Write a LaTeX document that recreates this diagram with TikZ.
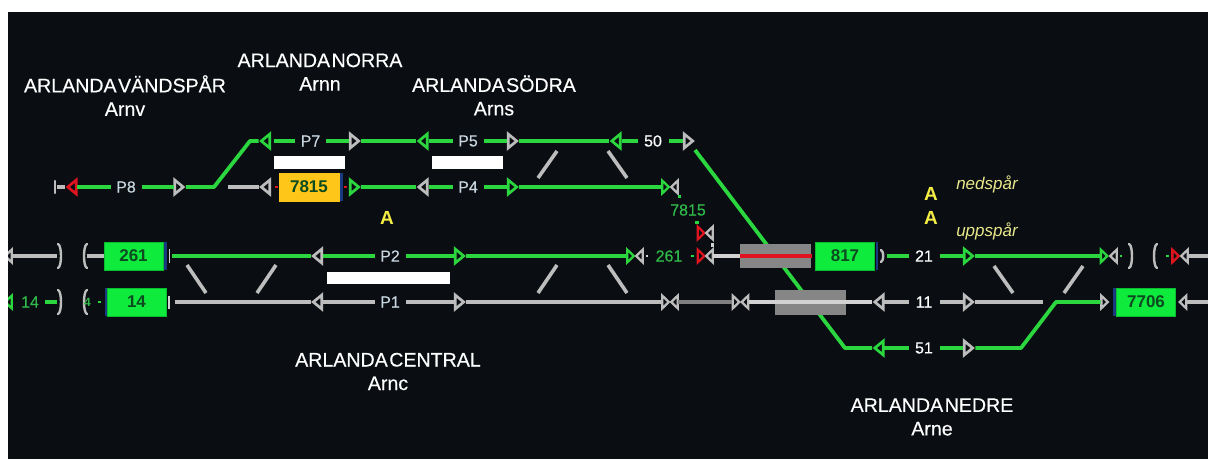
\documentclass[tikz,border=0pt]{standalone}
\usepackage{fontspec}
\setmainfont{Liberation Sans}
\usetikzlibrary{shapes.geometric}
\definecolor{bg}{HTML}{0A0D12}
\definecolor{grn}{HTML}{2BD63F}
\definecolor{gry}{HTML}{BDBDBD}
\definecolor{lgt}{HTML}{D2D2D2}
\definecolor{rd}{HTML}{E0141E}
\definecolor{boxg}{HTML}{0FEB3C}
\definecolor{boxy}{HTML}{FFC61A}
\definecolor{nav}{HTML}{1A3A80}
\definecolor{lab}{HTML}{C8D6E0}
\definecolor{ylw}{HTML}{F5EE45}
\definecolor{ity}{HTML}{E8E88A}
\definecolor{txg}{HTML}{30B84A}
\definecolor{boxt}{HTML}{0C4A20}
\newfontfamily\heavy[FakeBold=0.35]{Liberation Sans}
\tikzset{
 sl/.style={draw,fill=bg,isosceles triangle,isosceles triangle stretches,shape border rotate=180,minimum width=14pt,minimum height=8.5pt,inner sep=0pt,line width=2.7pt,outer sep=1pt,line join=miter},
 sr/.style={sl,shape border rotate=0},
 ssl/.style={sl,minimum width=12.5pt,minimum height=6.5pt,line width=2.3pt,outer sep=.8pt},
 ssr/.style={ssl,shape border rotate=0},
 G/.style={draw=grn},
 Y/.style={draw=gry},
 R/.style={draw=rd},
 gt/.style={draw=grn,line width=3.8pt,line join=round},
 yt/.style={draw=gry,line width=3.6pt,line join=round},
 lt/.style={draw=lgt,line width=3.6pt},
 cross/.style={draw=gry,line width=3.6pt},
 lbl/.style={minimum width=31pt,minimum height=10pt,inner sep=0pt,outer sep=0pt,text=lab,font=\fontsize{16}{16}\heavy},
 num/.style={lbl,text=white,font=\fontsize{16}{16}\heavy},
 gnum/.style={inner sep=0pt,text=txg,font=\fontsize{16}{16}\heavy},
 tbox/.style={fill=boxg,draw=boxg!80!black,line width=.5pt,minimum width=59pt,minimum height=28pt,inner sep=0pt,text=boxt,font=\fontsize{17}{17}\bfseries\selectfont},
 gbox/.style={fill=gray!95!white,minimum width=71pt,minimum height=24pt,inner sep=0pt},
 wbar/.style={fill=white,inner sep=0pt},
 st/.style={text=white,inner sep=0pt,align=center,font=\fontsize{19.6}{23.5}\heavy},
 ya/.style={text=ylw,inner sep=0pt,font=\fontsize{19}{19}\bfseries\selectfont},
 it/.style={text=ity,inner sep=0pt,font=\fontsize{17}{17}\itshape\selectfont},
 brk/.style={draw=gry,line width=2.4pt,line cap=round},
}
\newcommand{\tsp}{\hspace{1.5pt}}
\begin{document}
\begin{tikzpicture}[x=1pt,y=-1pt]
\useasboundingbox (0,0) rectangle (1208,459);
\fill[bg] (0,0) rectangle (1208,459);

% ---- titles
\node[st] (t1) at (125,95.5) {ARLANDA\tsp VÄNDSPÅR\\Arnv};
\node[st] (t2) at (320,72) {ARLANDA\tsp NORRA\\Arnn};
\node[st] (t3) at (494,95.5) {ARLANDA\tsp SÖDRA\\Arns};
\node[st] (t4) at (388,371.5) {ARLANDA\tsp CENTRAL\\Arnc};
\node[st] (t5) at (932,417) {ARLANDA\tsp NEDRE\\Arne};
\node[ya] (a1) at (387,218) {A};
\node[ya] (a2) at (931,194) {A};
\node[ya] (a3) at (931,218) {A};
\node[it] (n1) at (987,184) {nedspår};
\node[it] (n2) at (987,231) {uppspår};

% ---- white bars
\node[wbar,minimum width=71pt,minimum height=13pt] (w1) at (309.5,162.5) {};
\node[wbar,minimum width=71pt,minimum height=13pt] (w2) at (467.5,162.5) {};
\node[wbar,minimum width=123pt,minimum height=12pt] (w3) at (388.5,278) {};

% ---- row 141
\node[sl,G] (a1s) at (266.5,141) {};
\node[lbl] (lP7) at (310.5,141) {P7};
\node[sr,Y] (a2s) at (353.5,141) {};
\node[sl,G] (a3s) at (424,141) {};
\node[lbl] (lP5) at (468,141) {P5};
\node[sr,Y] (a4s) at (511.5,141) {};
\node[sl,G] (a5s) at (617,141) {};
\node[num] (l50) at (653,141) {50};
\node[sr,Y] (a6s) at (687.5,141) {};
% ---- row 187
\coordinate (stop) at (57,187);
\node[sl,R] (b0s) at (73,187) {};
\node[lbl] (lP8) at (126,187) {P8};
\node[sr,Y] (b1s) at (178,187) {};
\coordinate (bend1) at (214,187);
\coordinate (bend2) at (250,141);
\coordinate (b2c) at (228,187);
\node[sl,Y] (b2s) at (266.5,187) {};
\node[tbox,fill=boxy,draw=boxy,minimum width=60pt] (k7815) at (309,187) {7815};
\node[sr,G] (b3s) at (353.5,187) {};
\node[sl,Y] (b4s) at (424,187) {};
\node[lbl] (lP4) at (468,187) {P4};
\node[sr,G] (b5s) at (511.5,187) {};
\node[ssr,G] (b6s) at (665,187) {};
\node[ssl,Y] (b7s) at (675,187) {};
\node[gnum] (x7815) at (688,210) {7815};
\node[ssr,R] (c0s) at (700.5,233) {};
\node[ssl,Y] (c1s) at (710,233) {};
% ---- row 256
\node[ssl,Y] (d0s) at (9,256) {};
\coordinate (d0e) at (57,256);
\coordinate (d1e) at (87,256);
\node[tbox] (k261) at (133.5,256) {261};
\node[sl,Y] (d2s) at (318.5,256) {};
\node[lbl] (lP2) at (390,256) {P2};
\node[sr,G] (d3s) at (458.5,256) {};
\node[ssr,G] (d4s) at (630,256) {};
\node[ssl,Y] (d5s) at (640,256) {};
\node[gnum] (x261) at (669,256) {261};
\node[ssr,R] (d6s) at (700.5,256) {};
\node[ssl,Y] (d7s) at (710,256) {};
\coordinate (d7e) at (740,256);
\coordinate (d7f) at (812,256);
\node[tbox] (k817) at (845,256) {817};
\node[num] (l21) at (924,256) {21};
\node[sr,G] (d8s) at (967.5,256) {};
\node[ssr,G] (d9s) at (1103.5,256) {};
\node[ssl,Y] (d10s) at (1114,256) {};
\node[ssr,R] (d11s) at (1175,256) {};
\node[ssl,Y] (d12s) at (1185,256) {};
\coordinate (d13) at (1208,256);
% ---- row 302
\node[ssl,G] (e0s) at (9,302) {};
\node[gnum] (x14) at (30,302) {14};
\coordinate (e1c) at (45,302);
\coordinate (e2c) at (57,302);
\node[tbox] (k14) at (136.5,302) {14};
\node[sl,Y] (e3s) at (318.5,302) {};
\node[lbl] (lP1) at (390,302) {P1};
\node[sr,Y] (e4s) at (458.5,302) {};
\node[ssr,Y] (e5s) at (665,302) {};
\node[ssl,Y] (e6s) at (675,302) {};
\node[ssr,Y] (e7s) at (735.5,302) {};
\node[ssl,Y] (e8s) at (745.5,302) {};
\node[sl,Y] (e9s) at (880,302) {};
\node[num] (l11) at (924,302) {11};
\node[sr,Y] (e10s) at (967.5,302) {};
\coordinate (e10e) at (1043,302);
\coordinate (bend5) at (1056,302);
\node[ssr,Y] (e11s) at (1104,302) {};
\node[tbox] (k7706) at (1146,302) {7706};
\node[ssl,Y] (e12s) at (1183.5,302) {};
\coordinate (e13) at (1208,302);
% ---- row 348
\coordinate (dstart) at (695,150);
\coordinate (bend3) at (845,348);
\node[sl,G] (f0s) at (880,348) {};
\node[num] (l51) at (924,348) {51};
\node[sr,Y] (f1s) at (967.5,348) {};
\coordinate (bend4) at (1021,348);

% ---- long diagonal, under the grey boxes
\draw[gt] (dstart) -- (bend3) -- (f0s);
\node[gbox] (g1) at (775.5,256) {};
\node[gbox,minimum height=25pt] (g2) at (810.5,302.5) {};

% ---- connectors
\draw[yt] (stop) -- (b0s);
\draw[gt] (b0s) -- (lP8);
\draw[gt] (lP8) -- (b1s);
\draw[gt] (b1s) -- (bend1) -- (bend2) -- (a1s);
\draw[gt,shorten <=3pt] (a1s) -- (lP7);
\draw[gt] (lP7) -- (a2s);
\draw[gt] (a2s) -- (a3s);
\draw[gt,shorten <=1pt] (a3s) -- (lP5);
\draw[gt] (lP5) -- (a4s);
\draw[gt] (a4s) -- (a5s);
\draw[gt,shorten <=1pt] (a5s) -- (l50);
\draw[gt] (l50) -- (a6s);
\draw[yt] (b2c) -- (b2s);
\draw[gt] (b3s) -- (b4s);
\draw[gt,shorten <=1pt] (b4s) -- (lP4);
\draw[gt] (lP4) -- (b5s);
\draw[gt] (b5s) -- (b6s);
\draw[yt] (d0s) -- (d0e);
\draw[yt] (d1e) -- (k261);
\draw[gt,shorten <=9pt] (k261) -- (d2s);
\draw[gt] (d2s) -- (lP2);
\draw[gt] (lP2) -- (d3s);
\draw[gt] (d3s) -- (d4s);
\draw[lt] (d7s) -- (d7e);
\draw[rd,line width=3.6pt] (d7e) -- (d7f);
\draw[gt] (l21) -- (d8s);
\draw[gt,shorten <=12pt] (k817) -- (l21);
\draw[gt] (d8s) -- (d9s);
\draw[yt] (d12s) -- (d13);
\draw[gt] (e1c) -- (e2c);
\draw[yt,shorten <=9pt] (k14) -- (e3s);
\draw[yt] (e3s) -- (lP1);
\draw[yt] (lP1) -- (e4s);
\draw[yt] (e4s) -- (e5s);
\draw[draw=gray,line width=3.6pt] (e6s) -- (e7s);
\draw[lt] (e8s) -- (e9s);
\draw[yt] (e9s) -- (l11);
\draw[yt] (l11) -- (e10s);
\draw[yt] (e10s) -- (e10e);
\draw[gt] (f0s) -- (l51);
\draw[gt] (l51) -- (f1s);
\draw[gt] (f1s) -- (bend4) -- (bend5) -- (e11s);
\draw[yt] (e12s) -- (e13);

% ---- crossover stubs
\draw[cross] (187,265) -- (206,293);
\draw[cross] (276,265) -- (257,293);
\draw[cross] (557,151) -- (538,178);
\draw[cross] (608,151) -- (627,178);
\draw[cross] (557,265) -- (538,293);
\draw[cross] (608,265) -- (627,293);
\draw[cross] (994,266) -- (1013,293);
\draw[cross] (1083,266) -- (1064,293);

% ---- buffer stop and brackets
\draw[brk] (55,181) -- (55,193);
\draw[brk] (58,244) .. controls (62,245) and (62,267) .. (58,268);
\draw[brk] (87,244) .. controls (83,245) and (83,267) .. (87,268);
\draw[brk] (58,290) .. controls (62,291) and (62,313) .. (58,314);
\draw[brk] (87,290) .. controls (83,291) and (83,313) .. (87,314);
\draw[brk] (1129,244) .. controls (1133,245) and (1133,267) .. (1129,268);
\draw[brk] (1157,244) .. controls (1153,245) and (1153,267) .. (1157,268);
\draw[brk] (881,250) .. controls (884,251) and (884,261) .. (881,262);

% ---- end ticks and dots
\fill[nav] (340,173) rectangle (342.5,201);
\fill[nav] (164,242) rectangle (166.5,270);
\fill[nav] (104.5,288) rectangle (107,316);
\fill[nav] (875.5,242) rectangle (878,270);
\fill[nav] (1113,288) rectangle (1116,316);
\fill[lgt] (168.5,249) rectangle (170,263);
\fill[lgt] (167.5,296) rectangle (170,309);
\fill[rd] (274.5,186) rectangle (277.5,188);
\fill[rd] (344,186) rectangle (347,188);
\fill[grn] (678,195) rectangle (681,198);
\fill[grn] (695,221) rectangle (699,224);
\fill[lgt] (711,243) rectangle (714,247);
\fill[lgt] (646,255) rectangle (648,257);
\fill[grn] (691,255) rectangle (694,257);
\fill[grn] (98,301) rectangle (101,303);
\fill[grn] (1120,255) rectangle (1122,257);
\fill[grn] (1166,255) rectangle (1169,257);
\node[text=txg,inner sep=0pt,font=\fontsize{12}{12}\bfseries\selectfont] (x4) at (87.5,302) {4};

% ---- white page margins, over everything that runs off the panel
\fill[white] (0,0) rectangle (8,459);
\fill[white] (0,0) rectangle (1208,12);
\end{tikzpicture}
\end{document}
